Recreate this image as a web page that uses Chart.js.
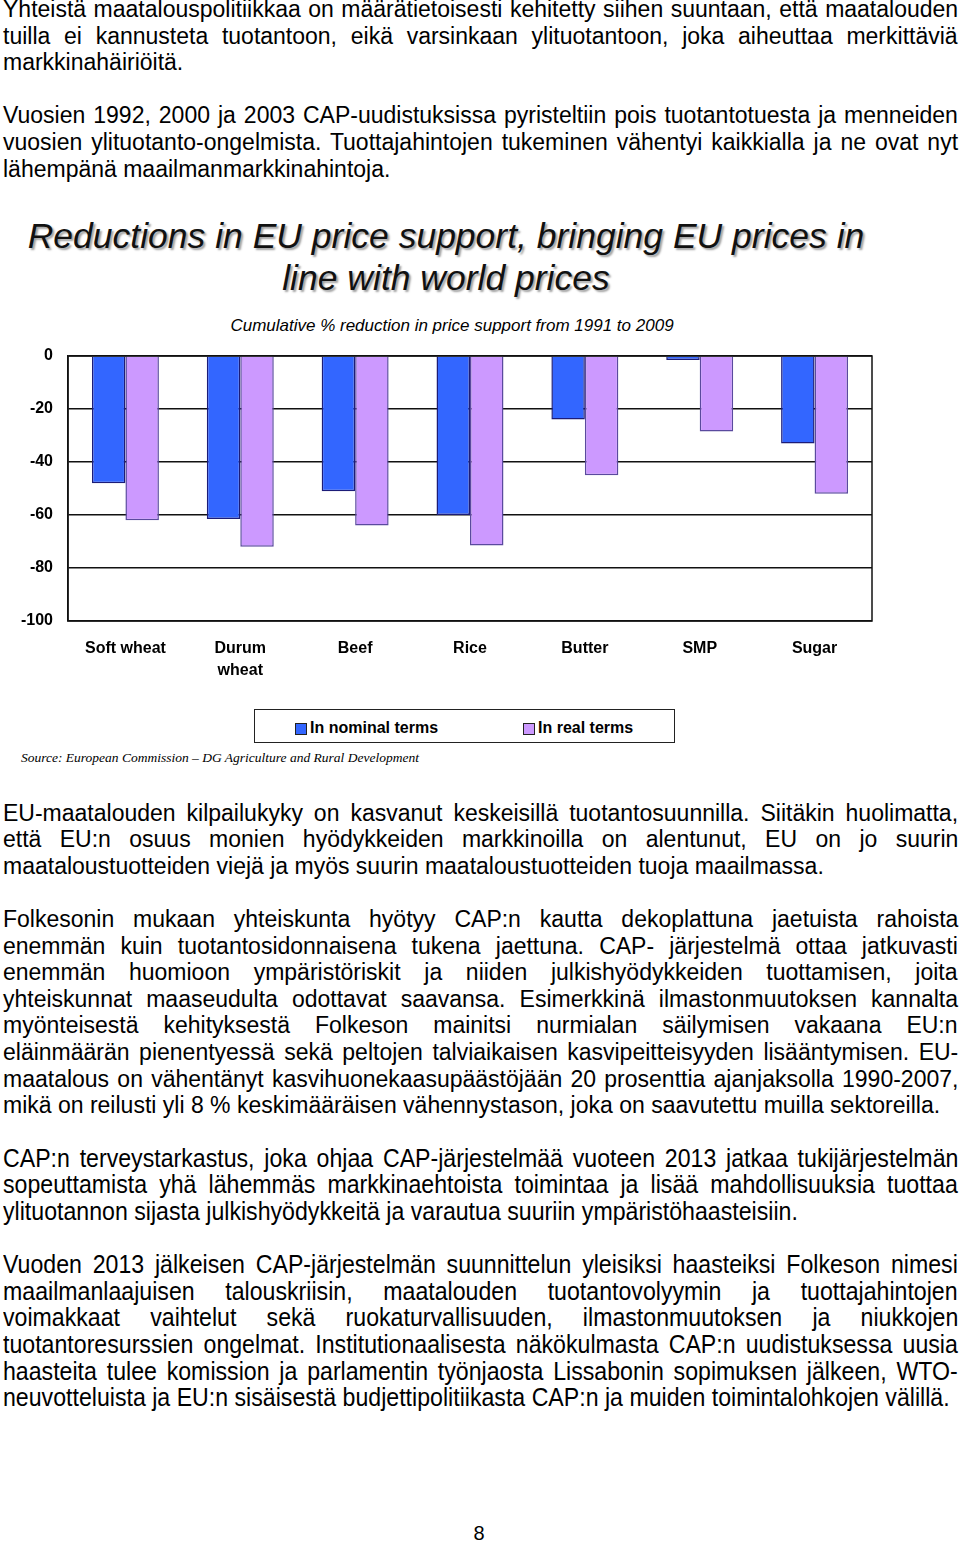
<!DOCTYPE html>
<html>
<head>
<meta charset="utf-8">
<script src="https://cdn.jsdelivr.net/npm/chart.js@4.4.1/dist/chart.umd.min.js"></script>
<style>
  html, body { margin: 0; padding: 0; background: #fff; }
  #page { position: relative; width: 960px; height: 1543px; overflow: hidden;
          font-family: "Liberation Sans", Arial, sans-serif; color: #000; }
  .line { position: absolute; left: 3px; white-space: nowrap; line-height: 1; transform-origin: 0 0; }
  #title { position: absolute; left: 0; width: 892px; top: 215px; text-align: center;
           font-style: italic; font-size: 35.5px; line-height: 42px; color: #111;
           text-shadow: 2px 2px 2px #a0a0a0; }
  #subtitle { position: absolute; left: 0; width: 904px; top: 317px; text-align: center;
              font-style: italic; font-size: 17px; line-height: 18px; }
  #chartBox { position: absolute; left: 0; top: 340px; width: 960px; height: 350px; }
  #legend { position: absolute; left: 254px; top: 709px; width: 419px; height: 32px;
            border: 1.5px solid #222; font-weight: bold; font-size: 16px; }
  #legend .item { position: absolute; top: 9px; line-height: 18px; }
  #legend .swatch { position: absolute; top: 13px; width: 10px; height: 10px; border: 1px solid #222; }
  #source { position: absolute; left: 21px; top: 750px; font-family: "Liberation Serif", "Times New Roman", serif;
            font-style: italic; font-size: 13.5px; line-height: 16px; }
  #pageNo { position: absolute; left: 0; width: 958px; text-align: center; top: 1523px; font-size: 20px; line-height: 1; }
</style>
</head>
<body>
<div id="page">
  <div id="title">Reductions in EU price support, bringing EU prices in<br>line with world prices</div>
  <div id="subtitle">Cumulative % reduction in price support from 1991 to 2009</div>
  <div id="chartBox"><canvas id="chart" width="960" height="350"></canvas></div>
  <div id="legend"></div>
  <div id="source">Source: European Commission – DG Agriculture and Rural Development</div>
  <div id="pageNo">8</div>
</div>
<script>
// chart data
const categories = ["Soft wheat", ["Durum", "wheat"], "Beef", "Rice", "Butter", "SMP", "Sugar"];
const nominalTerms = [-48, -61.5, -51, -60, -24, -1.5, -33];
const realTerms = [-62, -72, -64, -71.5, -45, -28.5, -52];
const seriesNames = ["In nominal terms", "In real terms"];
const seriesColors = ["#3366ff", "#cc99ff"];
const seriesBorders = ["#1c1c78", "#5a4a9e"];
const yMin = -100, yMax = 0, yStep = 20;

// page text, one entry per printed line
const para1 = [
  "Yhteistä maatalouspolitiikkaa on määrätietoisesti kehitetty siihen suuntaan, että maatalouden",
  "tuilla ei kannusteta tuotantoon, eikä varsinkaan ylituotantoon, joka aiheuttaa merkittäviä",
  "markkinahäiriöitä."
];
const para2 = [
  "Vuosien 1992, 2000 ja 2003 CAP-uudistuksissa pyristeltiin pois tuotantotuesta ja menneiden",
  "vuosien ylituotanto-ongelmista. Tuottajahintojen tukeminen vähentyi kaikkialla ja ne ovat nyt",
  "lähempänä maailmanmarkkinahintoja."
];
const para3 = [
  "EU-maatalouden kilpailukyky on kasvanut keskeisillä tuotantosuunnilla. Siitäkin huolimatta,",
  "että EU:n osuus monien hyödykkeiden markkinoilla on alentunut, EU on jo suurin",
  "maataloustuotteiden viejä ja myös suurin maataloustuotteiden tuoja maailmassa."
];
const para4 = [
  "Folkesonin mukaan yhteiskunta hyötyy CAP:n kautta dekoplattuna jaetuista rahoista",
  "enemmän kuin tuotantosidonnaisena tukena jaettuna. CAP- järjestelmä ottaa jatkuvasti",
  "enemmän huomioon ympäristöriskit ja niiden julkishyödykkeiden tuottamisen, joita",
  "yhteiskunnat maaseudulta odottavat saavansa. Esimerkkinä ilmastonmuutoksen kannalta",
  "myönteisestä kehityksestä Folkeson mainitsi nurmialan säilymisen vakaana EU:n",
  "eläinmäärän pienentyessä sekä peltojen talviaikaisen kasvipeitteisyyden lisääntymisen. EU-",
  "maatalous on vähentänyt kasvihuonekaasupäästöjään 20 prosenttia ajanjaksolla 1990-2007,",
  "mikä on reilusti yli 8 % keskimääräisen vähennystason, joka on saavutettu muilla sektoreilla."
];
const para5 = [
  "CAP:n terveystarkastus, joka ohjaa CAP-järjestelmää vuoteen 2013 jatkaa tukijärjestelmän",
  "sopeuttamista yhä lähemmäs markkinaehtoista toimintaa ja lisää mahdollisuuksia tuottaa",
  "ylituotannon sijasta julkishyödykkeitä ja varautua suuriin ympäristöhaasteisiin."
];
const para6 = [
  "Vuoden 2013 jälkeisen CAP-järjestelmän suunnittelun yleisiksi haasteiksi Folkeson nimesi",
  "maailmanlaajuisen talouskriisin, maatalouden tuotantovolyymin ja tuottajahintojen",
  "voimakkaat vaihtelut sekä ruokaturvallisuuden, ilmastonmuutoksen ja niukkojen",
  "tuotantoresurssien ongelmat. Institutionaalisesta näkökulmasta CAP:n uudistuksessa uusia",
  "haasteita tulee komission ja parlamentin työnjaosta Lissabonin sopimuksen jälkeen, WTO-",
  "neuvotteluista ja EU:n sisäisestä budjettipolitiikasta CAP:n ja muiden toimintalohkojen välillä."
];

const page = document.getElementById("page");
const LINE = 26.6;
const TEXT_W = 955;

// justified lines: every line but the last is stretched to the full width
function addParagraph(lines, firstBaseline, fontSize, scaleX) {
  lines.forEach((t, i) => {
    const d = document.createElement("div");
    d.className = "line";
    d.textContent = t;
    d.style.fontSize = fontSize + "px";
    d.style.top = (firstBaseline + i * LINE - 0.8465 * fontSize) + "px";
    if (scaleX !== 1) d.style.transform = `scaleX(${scaleX})`;
    page.appendChild(d);
    if (i < lines.length - 1) {
      const spaces = t.split(" ").length - 1;
      const extra = TEXT_W / scaleX - d.offsetWidth;
      if (spaces > 0) d.style.wordSpacing = (extra / spaces) + "px";
    }
  });
}

addParagraph(para1, 17.5, 23, 1);
addParagraph(para2, 17.5 + 4 * LINE, 23, 1);
addParagraph(para3, 821, 23, 1);
addParagraph(para4, 821 + 4 * LINE, 23, 1);
addParagraph(para5, 821 + 13 * LINE, 26, 0.89);
addParagraph(para6, 821 + 17 * LINE, 26, 0.89);

// legend
const legend = document.getElementById("legend");
const legendX = [40, 268];
seriesNames.forEach((name, i) => {
  const sw = document.createElement("div");
  sw.className = "swatch";
  sw.style.left = legendX[i] + "px";
  sw.style.background = seriesColors[i];
  legend.appendChild(sw);
  const it = document.createElement("div");
  it.className = "item";
  it.style.left = (legendX[i] + 15) + "px";
  it.textContent = name;
  legend.appendChild(it);
});

const plotFrame = {
  id: "plotFrame",
  beforeDatasetsDraw(chart) {
    const { ctx, chartArea: a } = chart;
    ctx.save();
    ctx.strokeStyle = "#111";
    ctx.lineWidth = 1.5;
    ctx.strokeRect(a.left, a.top, a.right - a.left, a.bottom - a.top);
    ctx.restore();
  }
};

const tickFont = { family: "'Liberation Sans', Arial, sans-serif", size: 16, weight: "bold", lineHeight: 1.4 };

new Chart(document.getElementById("chart"), {
  type: "bar",
  data: {
    labels: categories,
    datasets: [
      { label: seriesNames[0], data: nominalTerms, backgroundColor: seriesColors[0],
        borderColor: seriesBorders[0], borderWidth: 1.5 },
      { label: seriesNames[1], data: realTerms, backgroundColor: seriesColors[1],
        borderColor: seriesBorders[1], borderWidth: 1.5 }
    ]
  },
  options: {
    responsive: false,
    animation: false,
    devicePixelRatio: 1,
    layout: { padding: { top: 16, right: 88, left: 0, bottom: 0 } },
    plugins: { legend: { display: false }, tooltip: { enabled: false } },
    datasets: { bar: { categoryPercentage: 0.583, barPercentage: 1 } },
    scales: {
      x: {
        grid: { display: false },
        border: { display: false },
        ticks: { color: "#000", font: tickFont, padding: 8, maxRotation: 0, autoSkip: false },
        afterFit: (s) => { s.height = 69; s.paddingLeft = 0; s.paddingRight = 0; }
      },
      y: {
        min: yMin, max: yMax,
        grid: { color: "#111", lineWidth: 1.5, drawTicks: false },
        border: { display: true, color: "#111", width: 1.5 },
        ticks: { stepSize: yStep, color: "#000", font: tickFont, padding: 15 },
        afterFit: (s) => { s.width = 68; s.paddingTop = 0; s.paddingBottom = 0; }
      }
    }
  },
  plugins: [plotFrame]
});
</script>
</body>
</html>
